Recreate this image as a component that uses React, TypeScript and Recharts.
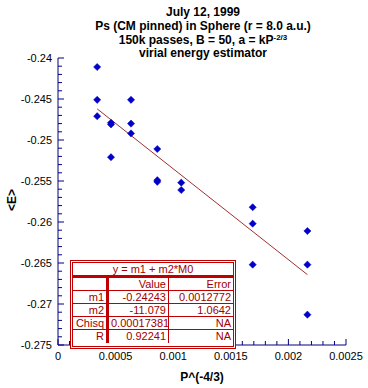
import React from "react";
import { ComposedChart, Scatter, XAxis, YAxis } from "recharts";

const pointX = [
  0.00034, 0.00034, 0.00034,
  0.00046, 0.00046, 0.00046,
  0.000634, 0.000634, 0.000634,
  0.000862, 0.000862, 0.000862,
  0.00107, 0.00107,
  0.00169, 0.00169, 0.00169,
  0.002165, 0.002165, 0.002165,
];
const pointE = [
  -0.2411, -0.2451, -0.2471,
  -0.2479, -0.2481, -0.2521,
  -0.2451, -0.248, -0.2492,
  -0.2511, -0.2549, -0.2551,
  -0.2552, -0.2561,
  -0.2582, -0.2602, -0.2652,
  -0.2611, -0.2652, -0.2713,
];
const fitX = [0.00034, 0.002165];
const fitE = [-0.24620, -0.26642];

const xMajorTicks = [0, 0.0005, 0.001, 0.0015, 0.002, 0.0025];
const xTickLabels = ["0", "0.0005", "0.001", "0.0015", "0.002", "0.0025"];
const yMajorTicks = [-0.24, -0.245, -0.25, -0.255, -0.26, -0.265, -0.27, -0.275];
const yTickLabels = ["-0.24", "-0.245", "-0.25", "-0.255", "-0.26", "-0.265", "-0.27", "-0.275"];

const titleLines = ["July 12, 1999", "Ps (CM pinned) in Sphere (r  = 8.0 a.u.)", "virial  energy  estimator"];
const tableHeader = "y = m1 + m2*M0";
const tableCols = ["", "Value", "Error"];
const tableRows = [
  ["m1", "-0.24243", "0.0012772"],
  ["m2", "-11.079", "1.0642"],
  ["Chisq", "0.00017381", "NA"],
  ["R", "0.92241", "NA"],
];

const points = pointX.map((x, i) => ({ x, y: pointE[i] }));
const fitLine = fitX.map((x, i) => ({ x, y: fitE[i] }));

function subdivide(majors: number[], n: number) {
  const out: number[] = [];
  for (let i = 0; i < majors.length - 1; i++) {
    for (let k = 0; k < n; k++) {
      out.push(+(majors[i] + ((majors[i + 1] - majors[i]) * k) / n).toFixed(6));
    }
  }
  out.push(majors[majors.length - 1]);
  return out;
}
const xTicks = subdivide(xMajorTicks, 5);
const yTicks = subdivide(yMajorTicks, 5);

const AXIS = "#000080";
const FONT = "Arial, 'Liberation Sans', sans-serif";

function isMajor(v: number, majors: number[]) {
  return majors.some((m) => Math.abs(m - v) < 1e-9);
}

const BottomTick = (props: any) => {
  const { x, payload } = props;
  const v = payload.value;
  const major = isMajor(v, xMajorTicks);
  const idx = xMajorTicks.findIndex((m) => Math.abs(m - v) < 1e-9);
  const len = major ? 6 : 4;
  return (
    <g>
      <line x1={x} x2={x} y1={345} y2={345 - len} stroke={AXIS} strokeWidth={1} />
      {major && (
        <text x={x} y={360} textAnchor="middle" fontSize={11} fontFamily={FONT} fill="#000">
          {xTickLabels[idx]}
        </text>
      )}
    </g>
  );
};
const TopTick = (props: any) => {
  const { x, payload } = props;
  const major = isMajor(payload.value, xMajorTicks);
  const len = major ? 6 : 4;
  return <line x1={x} x2={x} y1={58} y2={58 + len} stroke={AXIS} strokeWidth={1} />;
};
const LeftTick = (props: any) => {
  const { y, payload } = props;
  const v = payload.value;
  const major = isMajor(v, yMajorTicks);
  const idx = yMajorTicks.findIndex((m) => Math.abs(m - v) < 1e-9);
  const len = major ? 6 : 4;
  return (
    <g>
      <line x1={58} x2={58 + len} y1={y} y2={y} stroke={AXIS} strokeWidth={1} />
      {major && (
        <text x={52} y={y + 4} textAnchor="end" fontSize={11} fontFamily={FONT} fill="#000">
          {yTickLabels[idx]}
        </text>
      )}
    </g>
  );
};
const RightTick = (props: any) => {
  const { y, payload } = props;
  const major = isMajor(payload.value, yMajorTicks);
  const len = major ? 6 : 4;
  return <line x1={346} x2={346 - len} y1={y} y2={y} stroke={AXIS} strokeWidth={1} />;
};

const Diamond = (props: any) => {
  const { cx, cy } = props;
  if (cx == null || cy == null) return null;
  const r = 3.6;
  return (
    <polygon
      points={`${cx},${cy - r} ${cx + r},${cy} ${cx},${cy + r} ${cx - r},${cy}`}
      fill="#0000c8"
      stroke="#0000c8"
      strokeWidth={0.5}
    />
  );
};

const RED = "#c00000";
const TXT = "#a00000";

function FitTable() {
  const cellBase: React.CSSProperties = {
    padding: "0 2px",
    textAlign: "right",
    height: 13,
    lineHeight: "13px",
    whiteSpace: "nowrap",
  };
  const colW = [36, 60, 64];
  return (
    <div
      style={{
        position: "absolute",
        left: 70,
        top: 260,
        width: 166,
        height: 89,
        background: "#fff",
        border: `1px solid ${RED}`,
        boxSizing: "border-box",
        padding: 1,
        fontFamily: FONT,
        fontSize: 11,
        color: TXT,
      }}
    >
      <div
        style={{
          border: `1px solid ${RED}`,
          height: "100%",
          boxSizing: "border-box",
        }}
      >
        <div
          style={{
            height: 12,
            lineHeight: "12px",
            textAlign: "center",
            borderBottom: `3px solid ${RED}`,
          }}
        >
          {tableHeader}
        </div>
        {[tableCols, ...tableRows].map((row, ri) => (
          <div key={ri} style={{ display: "flex" }}>
            {row.map((c, ci) => (
              <div
                key={ci}
                style={{
                  ...cellBase,
                  width: colW[ci],
                  boxSizing: "border-box",
                  borderRight: ci === 0 ? `3px solid ${RED}` : ci === 2 ? "none" : `1px solid ${RED}`,
                  borderBottom: ri === tableRows.length ? "none" : `1px solid ${RED}`,
                  flexGrow: ci === 2 ? 1 : 0,
                }}
              >
                {c}
              </div>
            ))}
          </div>
        ))}
      </div>
    </div>
  );
}

export default function App() {
  return (
    <div style={{ position: "absolute", left: 0, top: 0, width: 368, height: 388, background: "#fff", fontFamily: FONT }}>
      <ComposedChart
        width={368}
        height={388}
        margin={{ top: 58, right: 22, bottom: 0, left: 0 }}
        style={{ position: "absolute", left: 0, top: 0 }}
      >
        <XAxis
          xAxisId="b"
          type="number"
          dataKey="x"
          domain={[0, 0.0025]}
          ticks={xTicks}
          interval={0}
          height={43}
          axisLine={{ stroke: AXIS }}
          tickLine={false}
          tick={<BottomTick />}
        />
        <XAxis
          xAxisId="t"
          orientation="top"
          type="number"
          dataKey="x"
          domain={[0, 0.0025]}
          ticks={xTicks}
          interval={0}
          height={0}
          axisLine={{ stroke: AXIS }}
          tickLine={false}
          tick={<TopTick />}
        />
        <YAxis
          yAxisId="l"
          type="number"
          dataKey="y"
          domain={[-0.275, -0.24]}
          ticks={yTicks}
          interval={0}
          width={58}
          axisLine={{ stroke: AXIS }}
          tickLine={false}
          tick={<LeftTick />}
        />
        <YAxis
          yAxisId="r"
          orientation="right"
          type="number"
          dataKey="y"
          domain={[-0.275, -0.24]}
          ticks={yTicks}
          interval={0}
          width={0}
          axisLine={{ stroke: AXIS }}
          tickLine={false}
          tick={<RightTick />}
        />
        <Scatter
          xAxisId="b"
          yAxisId="l"
          data={fitLine}
          line={{ stroke: "#a03030", strokeWidth: 1 }}
          shape={() => null}
          isAnimationActive={false}
        />
        <Scatter
          xAxisId="b"
          yAxisId="l"
          data={points}
          shape={<Diamond />}
          isAnimationActive={false}
        />
      </ComposedChart>
      <div
        style={{
          position: "absolute",
          left: 43,
          top: 5,
          width: 320,
          textAlign: "center",
          fontWeight: "bold",
          fontSize: 12,
          lineHeight: "14px",
          color: "#000",
          whiteSpace: "nowrap",
        }}
      >
        <div>{titleLines[0]}</div>
        <div>{titleLines[1]}</div>
        <div>
          150k passes, B = 50, a = kP<sup style={{ fontSize: 8, verticalAlign: "4px", lineHeight: 0 }}>-2/3</sup>
        </div>
        <div style={{ marginTop: -1 }}>{titleLines[2]}</div>
      </div>
      <div
        style={{
          position: "absolute",
          left: 12,
          top: 200,
          transform: "translate(-50%, -50%) rotate(-90deg)",
          fontWeight: "bold",
          fontSize: 12,
          whiteSpace: "nowrap",
        }}
      >
        {"<E>"}
      </div>
      <div
        style={{
          position: "absolute",
          left: 102,
          top: 370,
          width: 200,
          textAlign: "center",
          fontWeight: "bold",
          fontSize: 12,
        }}
      >
        {"P^(-4/3)"}
      </div>
      <FitTable />
    </div>
  );
}
